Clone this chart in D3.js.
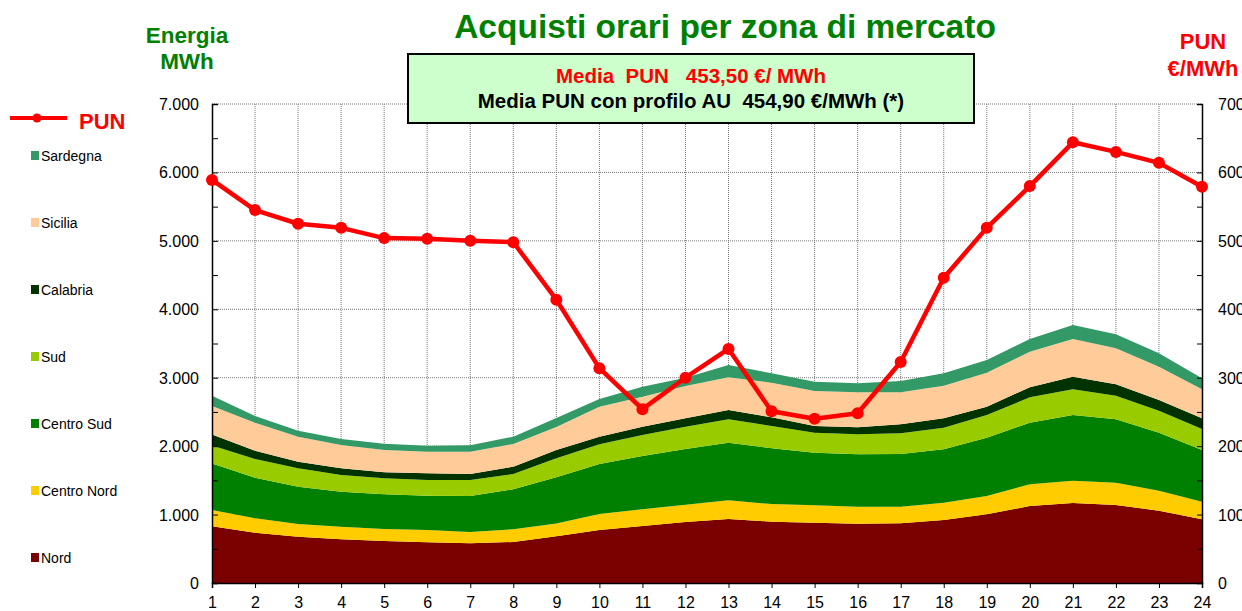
<!DOCTYPE html>
<html>
<head>
<meta charset="utf-8">
<script src="https://cdn.jsdelivr.net/npm/d3@7"></script>
<style>
  html, body { margin: 0; padding: 0; background: #ffffff; }
  svg { display: block; font-family: "Liberation Sans", Arial, sans-serif; }
  text { white-space: pre; }
</style>
</head>
<body>
<svg id="chart" width="1242" height="611"></svg>
<script>
// ---- DATA ----
const hours = [1,2,3,4,5,6,7,8,9,10,11,12,13,14,15,16,17,18,19,20,21,22,23,24];
const zones = ["Nord","Centro Nord","Centro Sud","Sud","Calabria","Sicilia","Sardegna"];
const zoneColors = ["#7b0000","#ffcc00","#008000","#99cc00","#003300","#ffcc99","#339966"];

const nord       = [830,735,677,638,614,595,580,599,682,775,833,891,935,896,881,867,872,921,1004,1125,1169,1140,1057,931];
const centroNord = [237,210,185,185,175,180,165,186,188,233,244,253,273,258,254,248,243,252,267,317,326,326,292,257];
const centroSud  = [678,594,545,511,507,501,526,584,675,731,779,814,842,814,769,765,770,780,853,901,960,926,847,756];
const sud        = [265,273,269,244,234,229,234,224,277,288,307,326,342,326,292,293,303,317,331,371,376,345,322,306];
const calabria   = [160,121,97,98,87,98,88,107,122,111,121,123,136,127,98,102,131,137,122,146,184,167,156,157];
const sicilia    = [417,410,365,341,327,316,326,331,336,439,439,472,478,506,512,512,468,477,496,520,551,526,487,424];
const sardegna   = [148,97,88,87,92,88,93,107,130,112,146,121,180,137,136,131,165,180,186,186,204,204,196,160];

const pun = [589,545,525,519,504,503,500,498,414,314,254,300,342,251,240,248,323,446,519,580,644,630,614,579];

const leftTicks = [0,1000,2000,3000,4000,5000,6000,7000];
const rightTicks = [0,100,200,300,400,500,600,700];

const titleText = "Acquisti orari per zona di mercato";
const boxLine1 = "Media  PUN   453,50 €/ MWh";
const boxLine2 = "Media PUN con profilo AU  454,90 €/MWh (*)";

// ---- LAYOUT ----
const svg = d3.select("#chart");
const L = 212, R = 1202, T = 104, B = 583;

const x = d3.scalePoint().domain(hours).range([L, R]);
const y = d3.scaleLinear().domain([0, 7000]).range([B, T]);
const y2 = d3.scaleLinear().domain([0, 700]).range([B, T]);

const seriesArrays = [nord, centroNord, centroSud, sud, calabria, sicilia, sardegna];
const table = hours.map((h, i) => {
  const row = { hour: h };
  zones.forEach((z, k) => row[z] = seriesArrays[k][i]);
  return row;
});
const stacked = d3.stack().keys(zones)(table);

// grid
const grid = svg.append("g");
grid.selectAll("line.h").data(leftTicks.filter(d => d > 0)).join("line")
  .attr("x1", L).attr("x2", R)
  .attr("y1", d => y(d)).attr("y2", d => y(d))
  .attr("stroke", "#777").attr("stroke-width", 1).attr("stroke-dasharray", "1,1");
grid.selectAll("line.v").data(hours.slice(1, -1)).join("line")
  .attr("x1", d => x(d)).attr("x2", d => x(d))
  .attr("y1", T).attr("y2", B)
  .attr("stroke", "#777").attr("stroke-width", 1).attr("stroke-dasharray", "1,1");

// areas
const area = d3.area()
  .x(d => x(d.data.hour))
  .y0(d => y(d[0]))
  .y1(d => y(d[1]));
svg.append("g").selectAll("path").data(stacked).join("path")
  .attr("d", area)
  .attr("fill", (d, i) => zoneColors[i]);

// axes
const leftAxis = svg.append("g").attr("transform", `translate(${L},0)`)
  .call(d3.axisLeft(y).tickValues(d3.range(0, 7001, 500)).tickSize(-6).tickFormat(""));
leftAxis.select(".domain").attr("stroke", "#000").attr("stroke-width", 1.5);
leftAxis.selectAll(".tick line").attr("stroke", "#000");

svg.append("g").selectAll("text").data(leftTicks).join("text")
  .attr("x", 199).attr("y", d => y(d) + 6)
  .attr("text-anchor", "end").attr("font-size", 16).attr("fill", "#000")
  .text(d => d3.format(",")(d).replace(/,/g, "."));

const rightAxis = svg.append("g").attr("transform", `translate(${R},0)`)
  .call(d3.axisRight(y2).tickValues(d3.range(0, 701, 50)).tickSize(-5).tickFormat(""));
rightAxis.select(".domain").attr("stroke", "#000").attr("stroke-width", 1.5);
rightAxis.selectAll(".tick line").attr("stroke", "#000");

svg.append("g").selectAll("text").data(rightTicks).join("text")
  .attr("x", 1218).attr("y", d => y2(d) + 6)
  .attr("text-anchor", "start").attr("font-size", 16).attr("fill", "#000")
  .text(d => d);

const bottomAxis = svg.append("g").attr("transform", `translate(0,${B})`)
  .call(d3.axisBottom(x).tickSize(5).tickPadding(9));
bottomAxis.select(".domain").attr("stroke", "#000").attr("stroke-width", 1.5);
bottomAxis.selectAll(".tick line").attr("stroke", "#000");
bottomAxis.selectAll(".tick text").attr("font-size", 16).attr("fill", "#000")
  .attr("font-family", "'Liberation Sans', Arial, sans-serif");

// PUN line
const line = d3.line().x((d, i) => x(hours[i])).y(d => y2(d));
svg.append("path").datum(pun)
  .attr("d", line).attr("fill", "none")
  .attr("stroke", "#ff0000").attr("stroke-width", 4.5).attr("stroke-linejoin", "round");
svg.append("g").selectAll("circle").data(pun).join("circle")
  .attr("cx", (d, i) => x(hours[i])).attr("cy", d => y2(d))
  .attr("r", 6).attr("fill", "#ff0000");

// title
svg.append("text").attr("x", 725).attr("y", 38)
  .attr("text-anchor", "middle").attr("font-size", 33.5).attr("font-weight", "bold")
  .attr("fill", "#008000").text(titleText);

svg.append("text").attr("x", 187).attr("y", 43)
  .attr("text-anchor", "middle").attr("font-size", 22.5).attr("font-weight", "bold")
  .attr("fill", "#008000").text("Energia");
svg.append("text").attr("x", 187).attr("y", 69)
  .attr("text-anchor", "middle").attr("font-size", 22.5).attr("font-weight", "bold")
  .attr("fill", "#008000").text("MWh");

svg.append("text").attr("x", 1203).attr("y", 49)
  .attr("text-anchor", "middle").attr("font-size", 22).attr("font-weight", "bold")
  .attr("fill", "#ff0000").text("PUN");
svg.append("text").attr("x", 1203).attr("y", 76)
  .attr("text-anchor", "middle").attr("font-size", 22).attr("font-weight", "bold")
  .attr("fill", "#ff0000").text("€/MWh");

// info box
svg.append("rect").attr("x", 408).attr("y", 54).attr("width", 566).attr("height", 69)
  .attr("fill", "#ccffcc").attr("stroke", "#000").attr("stroke-width", 2);
svg.append("text").attr("x", 691).attr("y", 83)
  .attr("text-anchor", "middle").attr("font-size", 20.5).attr("font-weight", "bold")
  .attr("fill", "#ff0000").text(boxLine1);
svg.append("text").attr("x", 691).attr("y", 108)
  .attr("text-anchor", "middle").attr("font-size", 20.5).attr("font-weight", "bold")
  .attr("fill", "#000").text(boxLine2);

// legend
const lg = svg.append("g");
lg.append("line").attr("x1", 10).attr("x2", 67).attr("y1", 118).attr("y2", 118)
  .attr("stroke", "#ff0000").attr("stroke-width", 4);
lg.append("circle").attr("cx", 37).attr("cy", 118).attr("r", 4.5).attr("fill", "#ff0000");
lg.append("text").attr("x", 79).attr("y", 129).attr("font-size", 22).attr("font-weight", "bold")
  .attr("fill", "#ff0000").text("PUN");

const legendZones = zones.slice().reverse();
const legendColors = zoneColors.slice().reverse();
const items = lg.selectAll("g.item").data(legendZones).join("g")
  .attr("transform", (d, i) => `translate(0,${156 + i * 67})`);
items.append("rect").attr("x", 31).attr("y", -5).attr("width", 8).attr("height", 9)
  .attr("fill", (d, i) => legendColors[i]);
items.append("text").attr("x", 41).attr("y", 5).attr("font-size", 14).attr("fill", "#000")
  .text(d => d);
</script>
</body>
</html>
